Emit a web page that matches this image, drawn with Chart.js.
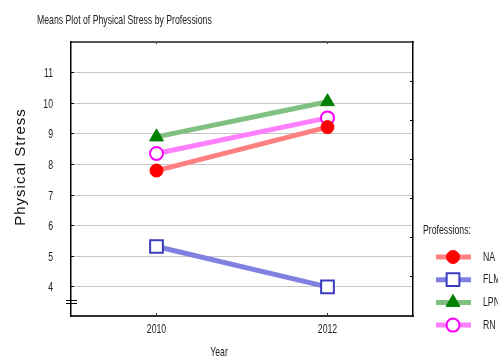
<!DOCTYPE html>
<html>
<head>
<meta charset="UTF-8">
<title>Means Plot of Physical Stress by Professions</title>
<script src="https://cdn.jsdelivr.net/npm/chart.js@4/dist/chart.umd.min.js"></script>
<style>
 body{margin:0;background:#fff;}
 #wrap{width:498px;height:358px;}
</style>
</head>
<body>
<div id="wrap"><canvas id="canvas" width="498" height="358"></canvas></div>
<script>

// data
var years = [2010, 2012];
var yTicks = [4, 5, 6, 7, 8, 9, 10, 11];
var professions = ["NA", "FLM", "LPN", "RN"];
var naValues  = [7.8, 9.22];
var flmValues = [5.32, 4.0];
var lpnValues = [8.9, 10.05];
var rnValues  = [8.36, 9.52];

// no narrow font installed, so squeeze Liberation Sans by hand
var narrowFont = "13px 'Liberation Sans', Arial, sans-serif";
var squeeze = 0.67;

function pts(vals){
    return years.map(function(y, i){ return {x: y, y: vals[i]}; });
}

function setW(w){ return function(s){ s.width = w; }; }
function setH(h){ return function(s){ s.height = h; }; }

function narrowText(ctx, txt, x, y, align){
    ctx.save();
    ctx.translate(x, y);
    ctx.scale(squeeze, 1);
    ctx.font = narrowFont;
    ctx.textAlign = align || 'left';
    ctx.textBaseline = 'middle';
    ctx.fillText(txt, 0, 0);
    ctx.restore();
}

// title, tick labels, axis titles, axis break, legend
var extras = {
    id: 'extras',
    afterDraw: function(chart){
        var ctx = chart.ctx;
        var area = chart.chartArea;
        var sx = chart.scales.x, sy = chart.scales.y;
        ctx.save();
        ctx.fillStyle = '#222';
        narrowText(ctx, "Means Plot of Physical Stress by Professions", 37, 20, 'left');

        sy.ticks.forEach(function(t){
            narrowText(ctx, String(t.value), 53, sy.getPixelForValue(t.value) + 1, 'right');
        });
        sx.ticks.forEach(function(t){
            narrowText(ctx, String(t.value), sx.getPixelForValue(t.value), 329, 'center');
        });
        narrowText(ctx, "Year", 219, 352, 'center');

        // y title
        ctx.save();
        ctx.translate(21, 167);
        ctx.rotate(-Math.PI / 2);
        ctx.font = "15px 'Liberation Sans', Arial, sans-serif";
        ctx.letterSpacing = '1px';
        ctx.textAlign = 'center';
        ctx.textBaseline = 'middle';
        ctx.fillStyle = '#111';
        ctx.fillText("Physical Stress", 0, 0);
        ctx.restore();

        // axis break mark
        var yb = Math.round(sy.getPixelForValue(3.5));
        ctx.strokeStyle = '#000';
        ctx.lineWidth = 1;
        ctx.beginPath();
        ctx.moveTo(area.left - 5, yb - 1.5); ctx.lineTo(area.left + 6, yb - 1.5);
        ctx.moveTo(area.left - 5, yb + 1.5); ctx.lineTo(area.left + 6, yb + 1.5);
        ctx.stroke();

        // legend
        ctx.fillStyle = '#222';
        narrowText(ctx, "Professions:", 423, 230, 'left');
        chart.data.datasets.forEach(function(ds, i){
            var y = 257 + i * 22.7;
            ctx.strokeStyle = ds.borderColor;
            ctx.lineWidth = 5;
            ctx.beginPath();
            ctx.moveTo(436, y); ctx.lineTo(471, y);
            ctx.stroke();
            ctx.fillStyle = ds.pointBackgroundColor;
            ctx.strokeStyle = ds.pointBorderColor;
            ctx.lineWidth = ds.pointBorderWidth;
            Chart.helpers.drawPoint(ctx, {pointStyle: ds.pointStyle, radius: ds.pointRadius, rotation: 0, borderWidth: ds.pointBorderWidth}, 453, y);
            ctx.fillStyle = '#222';
            narrowText(ctx, ds.label, 483, y, 'left');
        });
        ctx.restore();
    }
};

var ctx = document.getElementById("canvas").getContext("2d");
window.myLine = new Chart(ctx, {
    type: 'line',
    data: {
        datasets: [{
            label: professions[0],
            data: pts(naValues),
            borderColor: '#ff8080',
            borderWidth: 5,
            pointStyle: 'circle',
            pointRadius: 6.5,
            pointBackgroundColor: '#ff0000',
            pointBorderColor: '#ff0000',
            pointBorderWidth: 1
        }, {
            label: professions[1],
            data: pts(flmValues),
            borderColor: '#8080e0',
            borderWidth: 5,
            pointStyle: 'rect',
            pointRadius: 9,
            pointBackgroundColor: '#ffffff',
            pointBorderColor: '#3c3cc0',
            pointBorderWidth: 2
        }, {
            label: professions[2],
            data: pts(lpnValues),
            borderColor: '#80c080',
            borderWidth: 5,
            pointStyle: 'triangle',
            pointRadius: 8,
            pointBackgroundColor: '#008000',
            pointBorderColor: '#008000',
            pointBorderWidth: 1
        }, {
            label: professions[3],
            data: pts(rnValues),
            borderColor: '#ff80ff',
            borderWidth: 5,
            pointStyle: 'circle',
            pointRadius: 6.5,
            pointBackgroundColor: '#ffffff',
            pointBorderColor: '#ff00ff',
            pointBorderWidth: 2
        }]
    },
    options: {
        responsive: false,
        animation: false,
        layout: { padding: { top: 42, right: 85, bottom: 0, left: 0 } },
        plugins: { legend: { display: false }, title: { display: false }, tooltip: { enabled: false } },
        scales: {
            x: {
                type: 'linear', position: 'bottom', min: 2009, max: 2013,
                afterBuildTicks: function(s){ s.ticks = years.map(function(v){ return {value: v}; }); },
                afterFit: setH(42),
                grid: { drawOnChartArea: false, tickLength: -3, tickColor: '#333' },
                border: { color: '#333', width: 2 },
                ticks: { display: false }
            },
            x2: {
                type: 'linear', position: 'top', min: 2009, max: 2013,
                afterBuildTicks: function(s){ s.ticks = years.map(function(v){ return {value: v}; }); },
                afterFit: setH(0),
                grid: { drawOnChartArea: false, tickLength: -2, tickColor: '#444' },
                border: { color: '#555', width: 2 },
                ticks: { display: false }
            },
            y: {
                type: 'linear', position: 'left', min: 3.05, max: 12,
                afterBuildTicks: function(s){ s.ticks = yTicks.map(function(v){ return {value: v}; }); },
                afterFit: setW(71),
                grid: { color: '#c8c8c8', lineWidth: 1, tickLength: -3, tickColor: '#000' },
                border: { color: '#000', width: 1.5 },
                ticks: { display: false }
            },
            y2: {
                type: 'linear', position: 'right', min: 0, max: 7,
                ticks: { display: false, stepSize: 1 },
                afterFit: setW(0),
                grid: { drawOnChartArea: false, tickLength: -3, tickColor: '#000' },
                border: { color: '#000', width: 1.5 }
            }
        }
    },
    plugins: [extras]
});
</script>
</body>
</html>
